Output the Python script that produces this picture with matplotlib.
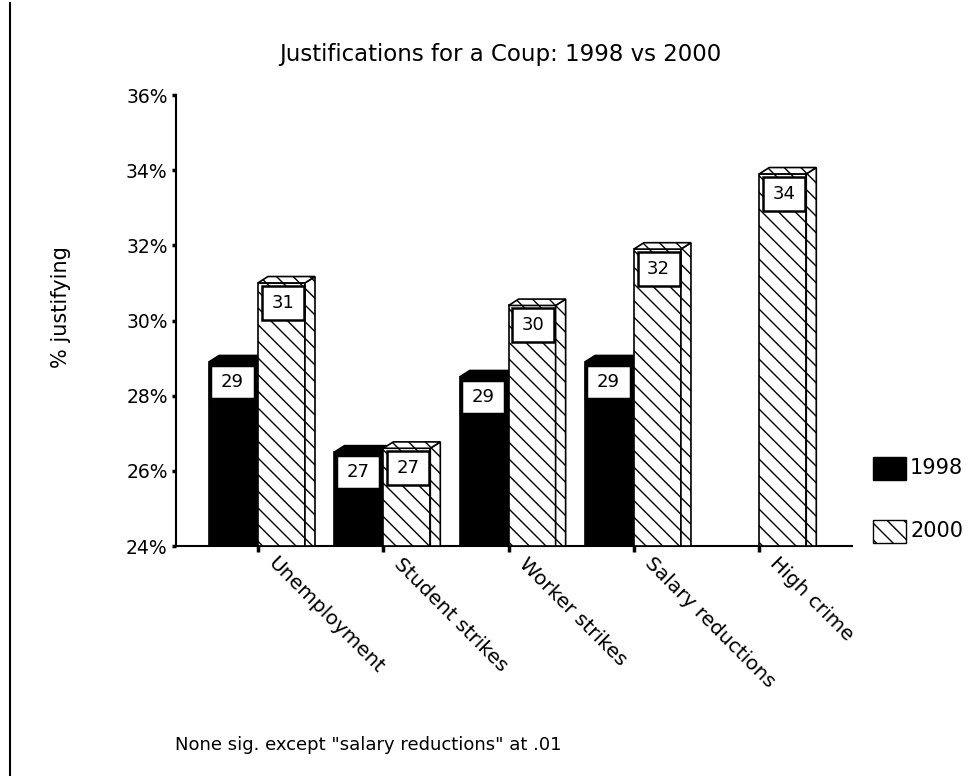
import matplotlib
matplotlib.use("Agg")
import matplotlib.pyplot as plt
import matplotlib.transforms as mtransforms
from matplotlib.patches import Rectangle, Polygon
from matplotlib.lines import Line2D
import numpy as np

plt.rcParams['font.family'] = ['DejaVu Sans']
plt.rcParams['hatch.linewidth'] = 1.0

# data
categories = ["Unemployment", "Student strikes", "Worker strikes",
              "Salary reductions", "High crime"]
pct_1998 = [28.9, 26.5, 28.5, 28.9, np.nan]
pct_2000 = [31.0, 26.6, 30.4, 31.9, 33.9]
labels_1998 = ["29", "27", "29", "29", ""]
labels_2000 = ["31", "27", "30", "32", "34"]
yticks = [24, 26, 28, 30, 32, 34, 36]

BASE = 24
BAR_W = 0.375
GAP = 0.015
DX, DY = 0.08, 0.17      # fake 3D depth
BOX_H = 0.9
HATCH = '\\\\'

fig = plt.figure(figsize=(9.75, 7.76), dpi=100)
ax = fig.add_axes([176 / 975, 1 - 546 / 776, (852 - 176) / 975, (546 - 95) / 776])


def bar3d(x0, v, hatch, face, z):
    x1 = x0 + BAR_W
    ax.bar(x0, v - BASE, width=BAR_W, bottom=BASE, align='edge',
           facecolor=face, edgecolor='black', hatch=hatch, lw=1.2, zorder=z)
    top = Polygon([(x0, v), (x1, v), (x1 + DX, v + DY), (x0 + DX, v + DY)],
                  closed=True, facecolor=face, edgecolor='black', hatch=hatch,
                  lw=1.2, zorder=z)
    side = Polygon([(x1, BASE), (x1, v), (x1 + DX, v + DY), (x1 + DX, BASE)],
                   closed=True, facecolor=face, edgecolor='black', hatch=hatch,
                   lw=1.2, zorder=z)
    ax.add_patch(side)
    ax.add_patch(top)


def value_box(x0, v, txt, inset_l, inset_r, z, lw):
    w = BAR_W - inset_l - inset_r
    ax.add_patch(Rectangle((x0 + inset_l, v - 0.08 - BOX_H), w, BOX_H,
                           facecolor='white', edgecolor='black', lw=lw, zorder=z))
    ax.text(x0 + inset_l + w / 2, v - 0.08 - BOX_H / 2, txt, ha='center',
            va='center', fontsize=13, zorder=z + 0.1)


x = np.arange(len(categories))
for i in range(len(categories)):
    if not np.isnan(pct_1998[i]):
        x0 = x[i] - BAR_W - GAP
        bar3d(x0, pct_1998[i], None, 'black', 2)
        value_box(x0, pct_1998[i], labels_1998[i], 0.01, 0.01, 2.5, 2.5)
    bar3d(x[i], pct_2000[i], HATCH, 'white', 3)
    value_box(x[i], pct_2000[i], labels_2000[i], 0.03, 0.01, 3.5, 1.8)

ax.set_xlim(-0.654, 4.74)
ax.set_ylim(24, 36)
ax.set_yticks(yticks)
ax.set_yticklabels([f"{t}%" for t in yticks], fontsize=13.5)
ax.set_xticks(x)
ax.set_xticklabels([])

# rotated category labels, shifted right of the tick like the original
off = mtransforms.ScaledTranslation(20 / 100, -8 / 100, fig.dpi_scale_trans)
for xi, cat in zip(x, categories):
    ax.text(xi, 0, cat, rotation=-45, ha='left', va='top',
            rotation_mode='anchor', fontsize=14.5,
            transform=ax.get_xaxis_transform() + off)

ax.tick_params(axis='y', direction='out', length=3, width=2.5, pad=3)
ax.tick_params(axis='x', direction='out', length=4, width=2.5, pad=2)
for s in ['top', 'right']:
    ax.spines[s].set_visible(False)
for s in ['left', 'bottom']:
    ax.spines[s].set_linewidth(1.5)

ax.set_ylabel("% justifying", fontsize=15)
ax.yaxis.set_label_coords(-0.155, 0.53)

fig.text(500 / 975, 1 - 55 / 776, "Justifications for a Coup: 1998 vs 2000",
         ha='center', va='center', fontsize=16.5)
fig.text(175 / 975, 1 - 745 / 776, 'None sig. except "salary reductions" at .01',
         ha='left', va='center', fontsize=13)

# legend
fig.patches.append(Rectangle((873 / 975, 1 - 480 / 776), 33 / 975, 23 / 776,
                             transform=fig.transFigure, facecolor='black',
                             edgecolor='black', lw=1))
fig.patches.append(Rectangle((873 / 975, 1 - 543 / 776), 33 / 975, 23 / 776,
                             transform=fig.transFigure, facecolor='white',
                             edgecolor='black', hatch=HATCH, lw=1))
fig.text(910 / 975, 1 - 468 / 776, "1998", ha='left', va='center', fontsize=15)
fig.text(910 / 975, 1 - 531 / 776, "2000", ha='left', va='center', fontsize=15)

# left border line
fig.lines.append(Line2D([10 / 975, 10 / 975], [0, 1 - 3 / 776],
                        transform=fig.transFigure, color='black', lw=1.5))

fig.savefig("out.png", dpi=100)
